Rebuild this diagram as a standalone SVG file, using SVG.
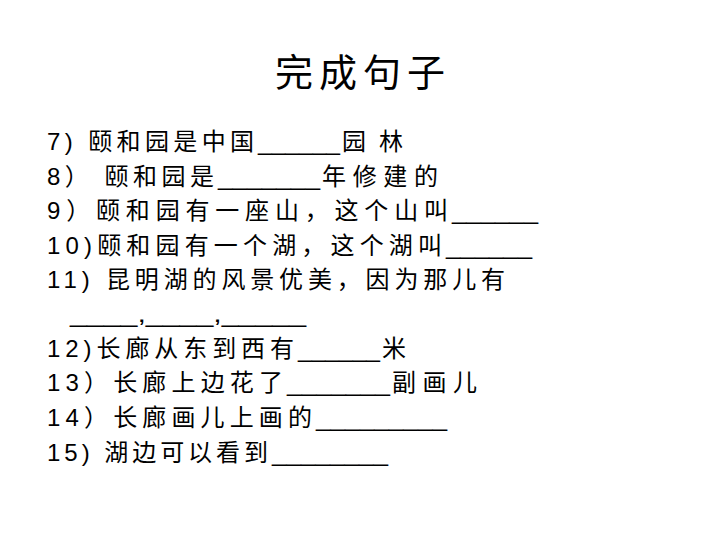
<svg xmlns="http://www.w3.org/2000/svg" width="720" height="540" viewBox="0 0 720 540">
<style>
.t{font-family:"Noto Sans CJK SC",sans-serif;font-size:38px;fill:#000}
.l{font-family:"Liberation Sans","Noto Sans CJK SC",sans-serif;font-size:24px;fill:#000}
.u{font-family:"Liberation Sans",sans-serif;font-size:24px;fill:#000}
</style>
<rect width="720" height="540" fill="#fff"/>
<text class="t" x="275" y="86" textLength="170">完成句子</text>
<g id="lines">
<text class="l" x="47" y="150" textLength="207">7) 颐和园是中国</text><text class="u" x="258" y="150" textLength="82" lengthAdjust="spacingAndGlyphs">______</text><text class="l" x="342" y="150" textLength="61">园林</text>
<text class="l" x="47" y="185" textLength="167">8） 颐和园是</text><text class="u" x="218" y="185" textLength="102" lengthAdjust="spacingAndGlyphs">_______</text><text class="l" x="322" y="185" textLength="116">年修建的</text>
<text class="l" x="47" y="219" textLength="401">9）颐和园有一座山，这个山叫</text><text class="u" x="452" y="219" textLength="86" lengthAdjust="spacingAndGlyphs">______</text>
<text class="l" x="47" y="254" textLength="395">10)颐和园有一个湖，这个湖叫</text><text class="u" x="446" y="254" textLength="86" lengthAdjust="spacingAndGlyphs">______</text>
<text class="l" x="47" y="288" textLength="458">11) 昆明湖的风景优美，因为那儿有</text>
<text class="u" x="70" y="322" textLength="236" lengthAdjust="spacingAndGlyphs">____,____,_____</text>
<text class="l" x="47" y="357" textLength="247">12)长廊从东到西有</text><text class="u" x="298" y="357" textLength="82" lengthAdjust="spacingAndGlyphs">______</text><text class="l" x="382" y="357">米</text>
<text class="l" x="47" y="391" textLength="236">13）长廊上边花了</text><text class="u" x="287" y="391" textLength="103" lengthAdjust="spacingAndGlyphs">_______</text><text class="l" x="392" y="391" textLength="85">副画儿</text>
<text class="l" x="47" y="426" textLength="265">14）长廊画儿上画的</text><text class="u" x="316" y="426" textLength="131" lengthAdjust="spacingAndGlyphs">_________</text>
<text class="l" x="47" y="461" textLength="221">15) 湖边可以看到</text><text class="u" x="272" y="461" textLength="116" lengthAdjust="spacingAndGlyphs">________</text>
</g>
</svg>
